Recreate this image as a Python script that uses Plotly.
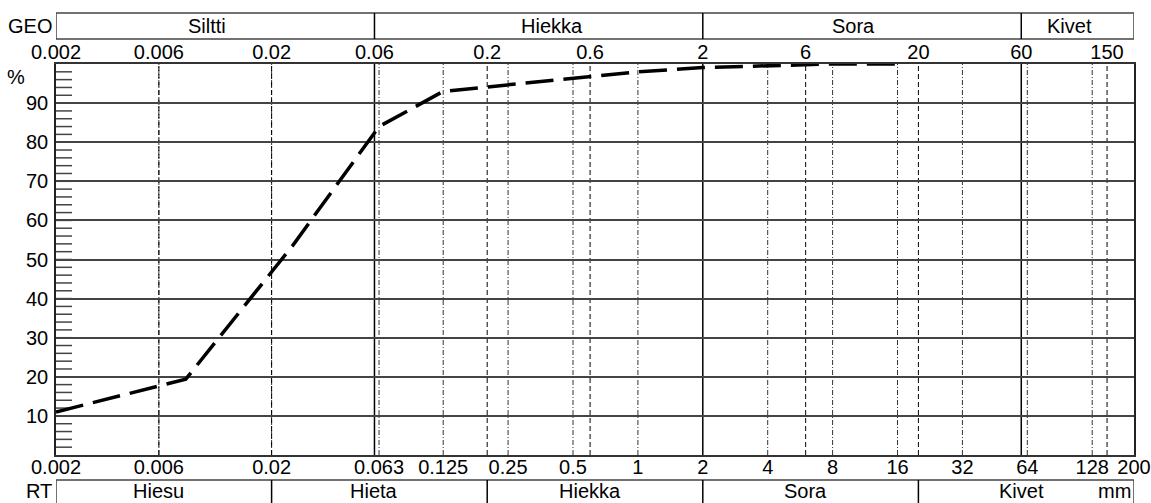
import math
import plotly.graph_objects as go

# ---- data ----
sizes = [0.002, 0.008, 0.025, 0.063, 0.125, 0.25, 0.5, 1, 2, 4, 8, 16]
passing = [11.0, 19.4, 53.5, 84.0, 93.0, 94.6, 96.2, 98.0, 99.1, 99.6, 100.0, 100.0]

bottom_ticks = [0.002, 0.006, 0.02, 0.063, 0.125, 0.25, 0.5, 1, 2, 4, 8, 16, 32, 64, 128, 200]
bottom_labels = ["0.002", "0.006", "0.02", "0.063", "0.125", "0.25", "0.5", "1", "2", "4", "8", "16", "32", "64", "128", "200"]
top_ticks = [0.002, 0.006, 0.02, 0.06, 0.2, 0.6, 2, 6, 20, 60, 150]
top_labels = ["0.002", "0.006", "0.02", "0.06", "0.2", "0.6", "2", "6", "20", "60", "150"]
y_ticks = [10, 20, 30, 40, 50, 60, 70, 80, 90]

geo_names = ["Siltti", "Hiekka", "Sora", "Kivet"]
geo_label_pos = [0.01, 0.4, 10, 100]
geo_dividers = [0.06, 2, 60]
rt_names = ["Hiesu", "Hieta", "Hiekka", "Sora", "Kivet"]
rt_label_pos = [0.006, 0.06, 0.6, 6, 60]
rt_dividers = [0.02, 0.2, 2, 20]

main_lines = [0.06, 2, 60]
geo_lines = [0.006, 0.02, 0.2, 0.6, 6, 20, 150]
rt_lines = [0.006, 0.02, 0.063, 0.125, 0.25, 0.5, 1, 4, 8, 16, 32, 64, 128]
minor_pct = list(range(2, 100, 2))

XMIN, XMAX = 0.002, 200
FONT = "Liberation Sans, Arial, sans-serif"
FS = 20

fig = go.Figure()
fig.add_trace(go.Scatter(x=sizes, y=passing, mode="lines",
                         line=dict(color="black", width=3.5, dash="28px,10px"),
                         hoverinfo="skip", showlegend=False))
fig.add_trace(go.Scatter(x=[XMIN, XMAX], y=[None, None], xaxis="x2", mode="lines",
                         showlegend=False, hoverinfo="skip"))

shapes = []
# vertical lines inside plot
for v in rt_lines:
    shapes.append(dict(type="line", xref="x", yref="y", x0=v, x1=v, y0=0, y1=100,
                       line=dict(color="#333", width=1, dash="5px,2px,1px,2px"), layer="below"))
for v in geo_lines:
    shapes.append(dict(type="line", xref="x", yref="y", x0=v, x1=v, y0=0, y1=100,
                       line=dict(color="black", width=1, dash="5px,3px"), layer="below"))
for v in main_lines:
    shapes.append(dict(type="line", xref="x", yref="y", x0=v, x1=v, y0=0, y1=100,
                       line=dict(color="black", width=1.5), layer="below"))
# minor ticks
tick_specs = [(XMIN, 0, 16), (XMAX, -11, 0)] + [(v, -10, 0) for v in main_lines]
for anchor, p0, p1 in tick_specs:
    for p in minor_pct:
        shapes.append(dict(type="line", xref="x", yref="y", xsizemode="pixel", xanchor=anchor,
                           x0=p0, x1=p1, y0=p, y1=p, line=dict(color="#444", width=1.5),
                           layer="below"))

# GEO bar (top) and RT bar (bottom) in paper coordinates
GEO_Y0, GEO_Y1 = 1.0639, 1.1304
RT_Y0, RT_Y1 = -0.140, -0.0639
shapes.append(dict(type="rect", xref="x", yref="paper", x0=XMIN, x1=XMAX, y0=GEO_Y0, y1=GEO_Y1,
                   line=dict(color="#444", width=1.5)))
for v in geo_dividers:
    shapes.append(dict(type="line", xref="x", yref="paper", x0=v, x1=v, y0=GEO_Y0, y1=GEO_Y1,
                       line=dict(color="black", width=1.5)))
shapes.append(dict(type="rect", xref="x", yref="paper", x0=XMIN, x1=XMAX, y0=RT_Y0, y1=RT_Y1,
                   line=dict(color="#444", width=1.5)))
for v in rt_dividers:
    shapes.append(dict(type="line", xref="x", yref="paper", x0=v, x1=v, y0=RT_Y0, y1=RT_Y1,
                       line=dict(color="black", width=1.5)))

annotations = []
for name, pos in zip(geo_names, geo_label_pos):
    annotations.append(dict(text=name, x=math.log10(pos), xref="x", y=(GEO_Y0 + GEO_Y1) / 2,
                            yref="paper", showarrow=False, xanchor="center", yanchor="middle",
                            font=dict(family=FONT, size=FS, color="black")))
for name, pos in zip(rt_names, rt_label_pos):
    annotations.append(dict(text=name, x=math.log10(pos), xref="x", y=-0.0920,
                            yref="paper", showarrow=False, xanchor="center", yanchor="middle",
                            font=dict(family=FONT, size=FS, color="black")))
annotations.append(dict(text="mm", x=1, xref="paper", y=-0.0920, yref="paper", showarrow=False,
                        xanchor="right", yanchor="middle", xshift=-1,
                        font=dict(family=FONT, size=FS, color="black")))
annotations.append(dict(text="GEO", x=0, xref="paper", y=(GEO_Y0 + GEO_Y1) / 2, yref="paper",
                        showarrow=False, xanchor="right", yanchor="middle", xshift=-2,
                        font=dict(family=FONT, size=FS, color="black")))
annotations.append(dict(text="RT", x=0, xref="paper", y=-0.0920, yref="paper",
                        showarrow=False, xanchor="right", yanchor="middle", xshift=-2,
                        font=dict(family=FONT, size=FS, color="black")))
annotations.append(dict(text="%", x=0, xref="paper", y=0.9668, yref="paper",
                        showarrow=False, xanchor="center", yanchor="middle", xshift=-40,
                        font=dict(family=FONT, size=FS, color="black")))

axis_font = dict(family=FONT, size=FS, color="black")
fig.update_layout(
    width=1151, height=503,
    margin=dict(l=56, r=17, t=64, b=48, pad=0, autoexpand=False),
    paper_bgcolor="white", plot_bgcolor="white",
    showlegend=False,
    xaxis=dict(type="log", range=[math.log10(XMIN), math.log10(XMAX)], automargin=False,
               tickmode="array", tickvals=bottom_ticks, ticktext=bottom_labels,
               showgrid=False, zeroline=False, showline=True, linecolor="#333", linewidth=1.5,
               mirror=True, ticks="", tickfont=axis_font, tickangle=0, ticklabelstandoff=-7),
    xaxis2=dict(type="log", range=[math.log10(XMIN), math.log10(XMAX)], overlaying="x",
                automargin=False,
                side="top", tickmode="array", tickvals=top_ticks, ticktext=top_labels,
                showgrid=False, zeroline=False, showline=False, ticks="", tickfont=axis_font,
                tickangle=0),
    yaxis=dict(range=[0, 100], tickmode="array", tickvals=y_ticks, automargin=False,
               showgrid=True, gridcolor="#444", gridwidth=1.5, zeroline=False,
               showline=True, linecolor="#222", linewidth=1.5, mirror=True,
               ticks="", tickfont=axis_font, ticklabelstandoff=2),
    shapes=shapes,
    annotations=annotations,
)

fig.write_html("out.html", config={"displayModeBar": False},
               post_script="document.body.style.margin='0';document.body.style.overflow='hidden';")
